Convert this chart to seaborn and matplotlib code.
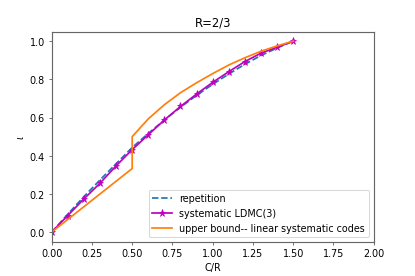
import numpy as np
import pandas as pd
import seaborn as sns
import matplotlib
matplotlib.use('Agg')
import matplotlib.pyplot as plt

# data
cr = [0.0, 0.1, 0.2, 0.3, 0.4, 0.5, 0.6, 0.7, 0.8, 0.9, 1.0, 1.1, 1.2, 1.3, 1.4, 1.5]
rep = [0.0, 0.094, 0.186, 0.273, 0.358, 0.443, 0.517, 0.587, 0.654, 0.716, 0.774, 0.828, 0.879, 0.925, 0.964, 1.0]
ldmc = [0.0, 0.087, 0.174, 0.256, 0.347, 0.432, 0.510, 0.587, 0.658, 0.723, 0.784, 0.840, 0.893, 0.937, 0.968, 1.0]

ub_x = [0.0, 0.5, 0.5, 0.6, 0.7, 0.8, 0.9, 1.0, 1.1, 1.2, 1.3, 1.4, 1.5]
ub_y = [0.0, 0.333, 0.5, 0.593, 0.667, 0.73, 0.782, 0.83, 0.875, 0.913, 0.947, 0.975, 1.0]

fig, ax = plt.subplots(figsize=(6, 4), dpi=69.2)
fig.subplots_adjust(left=0.1245, right=0.9, bottom=0.124, top=0.883)

lw = 1.8
sns.lineplot(x=cr, y=rep, ax=ax, color='#1f77b4', linestyle='--', linewidth=lw,
             label='repetition', estimator=None, sort=False)
sns.lineplot(x=cr, y=ldmc, ax=ax, color='m', marker='*', markersize=7.5,
             markeredgecolor='m', linewidth=lw, label='systematic LDMC(3)',
             estimator=None, sort=False)
sns.lineplot(x=ub_x, y=ub_y, ax=ax, color='#ff7f0e', linewidth=lw,
             label='upper bound-- linear systematic codes',
             estimator=None, sort=False)

ax.set_xlim(0, 2.0)
ax.set_xticks(np.arange(0, 2.01, 0.25))
ax.set_yticks(np.arange(0, 1.01, 0.2))
ax.set_xlabel('C/R')
ax.set_ylabel(r'$\iota$')
ax.set_title('R=2/3')
for s in ax.spines.values():
    s.set_color('0.4')
    s.set_linewidth(1.2)
ax.tick_params(color='0.3')
ax.legend(loc='lower right')

plt.savefig('out.png', dpi=69.2)
